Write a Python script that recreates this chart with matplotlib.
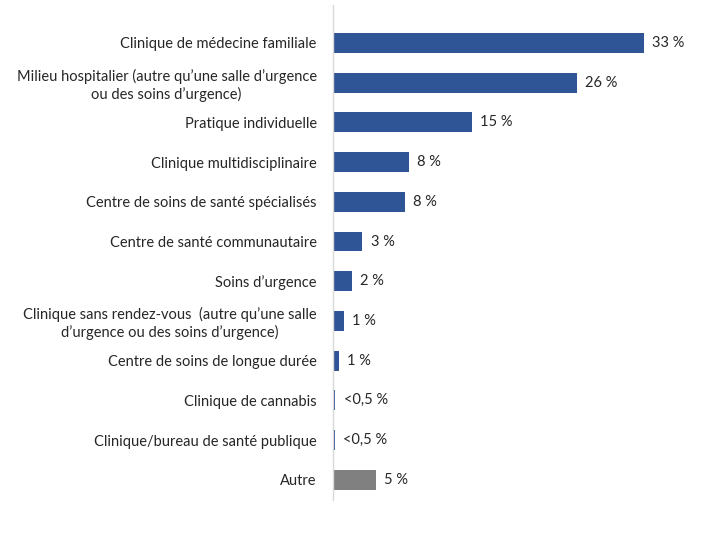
import matplotlib
matplotlib.use("Agg")
import matplotlib.pyplot as plt

categories = [
    "Clinique de médecine familiale",
    "Milieu hospitalier (autre qu\u2019une salle d\u2019urgence\nou des soins d\u2019urgence)",
    "Pratique individuelle",
    "Clinique multidisciplinaire",
    "Centre de soins de santé spécialisés",
    "Centre de santé communautaire",
    "Soins d\u2019urgence",
    "Clinique sans rendez-vous  (autre qu\u2019une salle\nd\u2019urgence ou des soins d\u2019urgence)",
    "Centre de soins de longue durée",
    "Clinique de cannabis",
    "Clinique/bureau de santé publique",
    "Autre",
]
values = [33.0, 25.9, 14.7, 8.0, 7.6, 3.1, 2.0, 1.1, 0.6, 0.2, 0.15, 4.5]
value_labels = ["33 %", "26 %", "15 %", "8 %", "8 %", "3 %", "2 %", "1 %", "1 %",
                "<0,5 %", "<0,5 %", "5 %"]
colors = ["#2F5597"] * 11 + ["#808080"]

plt.rcParams['font.family'] = ['Lato', 'DejaVu Sans']

fig = plt.figure(figsize=(7.2, 5.4), dpi=100)
ax = fig.add_axes([333.3 / 720, 1 - 500 / 540, (700 - 333.3) / 720, 495 / 540])

y = list(range(len(categories)))
ax.barh(y, values, height=0.5, color=colors)
ax.set_ylim(11.51, -0.957)
ax.set_xlim(0, 33 * (700 - 333.3) / 310.7)

for yi, v, lab in zip(y, values, value_labels):
    ax.annotate(lab, (v, yi), xytext=(6, 0), textcoords="offset points",
                va="center", ha="left", fontsize=10.5, color="#262626")

ax.set_yticks(y)
ax.set_yticklabels(categories, fontsize=10.5, color="#262626", multialignment="center")
ax.tick_params(axis="y", length=0, pad=12)
ax.set_xticks([])
for s in ["top", "right", "bottom"]:
    ax.spines[s].set_visible(False)
ax.spines["left"].set_color("#D9D9D9")
ax.spines["left"].set_linewidth(1)

fig.savefig("out.png", dpi=100)
